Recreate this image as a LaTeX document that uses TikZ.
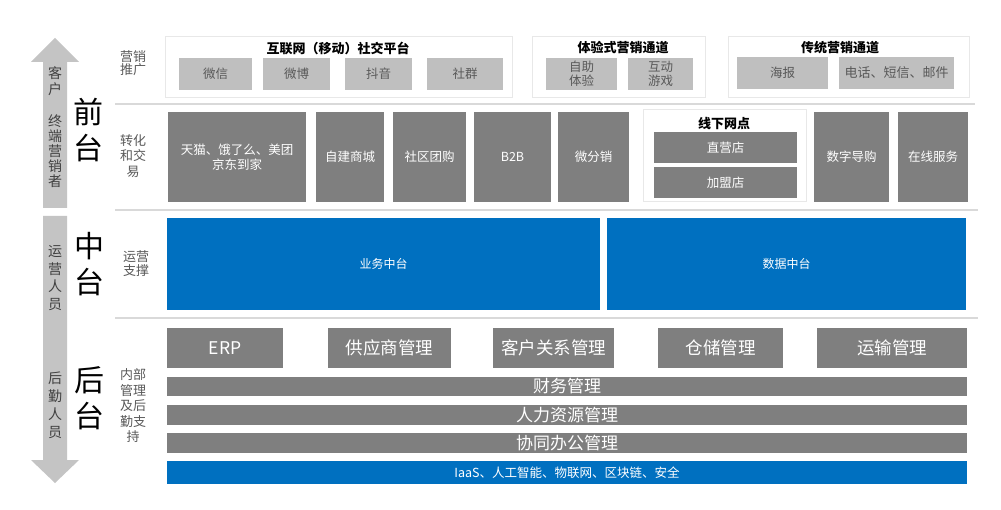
\documentclass[tikz,border=0pt]{standalone}
\usepackage{fontspec}
\setmainfont{Noto Sans CJK SC}
\definecolor{dg}{HTML}{7F7F7F}
\definecolor{lg}{HTML}{BFBFBF}
\definecolor{txg}{HTML}{595959}
\definecolor{bl}{HTML}{0070C0}
\definecolor{sep}{HTML}{D9D9D9}
\definecolor{gb}{HTML}{E8E8E8}
\definecolor{arr}{HTML}{C4C4C4}
\newcommand\mkbox[7]{%
  \pgfmathsetmacro\mycx{(#3+#5)/2}\pgfmathsetmacro\mycy{(#4+#6)/2}%
  \pgfmathsetmacro\myw{#5-#3}\pgfmathsetmacro\myh{#6-#4}%
  \node[#1, minimum width=\myw pt, minimum height=\myh pt] (#2) at (\mycx,\mycy) {#7};}
\tikzset{
  base/.style={rectangle, inner sep=0pt, outer sep=0pt, align=center},
  grp/.style={base, draw=gb, line width=1pt, fill=white},
  lbox/.style={base, fill=lg, text=txg, font=\fontsize{12.5}{14}\selectfont},
  dbox/.style={base, fill=dg, text=white, font=\fontsize{12.5}{15}\selectfont},
  bbox/.style={base, fill=bl, text=white, font=\fontsize{12}{14}\selectfont},
  ttl/.style={font=\bfseries\fontsize{13}{15}\selectfont, text=black, inner sep=0pt},
  big/.style={align=center, font=\fontsize{30}{36}\selectfont, text=black, inner sep=0pt},
  rlab/.style={align=center, text=txg, inner sep=0pt},
  alab/.style={align=center, text=black!75, inner sep=0pt},
  sepline/.style={draw=sep, line width=2pt}
}
\begin{document}
\begin{tikzpicture}[x=1pt, y=-1pt]
\useasboundingbox[fill=white] (0,0) rectangle (1001,510);
% arrows
\fill[arr] (55,38) -- (79,62) -- (67,62) -- (67,208) -- (43,208) -- (43,62) -- (31,62) -- cycle;
\fill[arr] (43,216) -- (67,216) -- (67,460) -- (79,460) -- (55,483) -- (31,460) -- (43,460) -- cycle;
\node[alab, font=\fontsize{14}{16.5}\selectfont] (a1) at (55,81) {客\\户};
\node[alab, font=\fontsize{14}{15}\selectfont] (a2) at (55,151) {终\\端\\营\\销\\者};
\node[alab, font=\fontsize{14}{17.5}\selectfont] (a3) at (55,278) {运\\营\\人\\员};
\node[alab, font=\fontsize{14}{18}\selectfont] (a4) at (55,405) {后\\勤\\人\\员};
% big labels
\node[big] (L1) at (88,130) {前\\台};
\node[big] (L2) at (89,264) {中\\台};
\node[big] (L3) at (89,398) {后\\台};
% row labels
\node[rlab, font=\fontsize{13}{13}\selectfont] (r1) at (133,63) {营销\\推广};
\node[rlab, font=\fontsize{13}{15.5}\selectfont] (r2) at (133,156) {转化\\和交\\易};
\node[rlab, font=\fontsize{13}{14}\selectfont] (r3) at (136,264) {运营\\支撑};
\node[rlab, font=\fontsize{13}{15.5}\selectfont] (r4) at (133,406) {内部\\管理\\及后\\勤支\\持};
% separators
\draw[sepline] (115,104) -- (975,104);
\draw[sepline] (115,210) -- (978,210);
\draw[sepline] (115,318) -- (978,318);
% top row
\mkbox{grp}{g1}{165}{37}{512}{98}{}
\mkbox{grp}{g2}{532}{37}{705}{98}{}
\mkbox{grp}{g3}{728}{37}{969}{98}{}
\node[ttl] (t1) at (338,48) {互联网（移动）社交平台};
\node[ttl] (t2) at (623,48) {体验式营销通道};
\node[ttl] (t3) at (840,48) {传统营销通道};
\mkbox{lbox}{m1}{179}{58}{252}{90}{微信}
\mkbox{lbox}{m2}{263}{58}{330}{90}{微博}
\mkbox{lbox}{m3}{345}{58}{412}{90}{抖音}
\mkbox{lbox}{m4}{427}{58}{503}{90}{社群}
\mkbox{lbox}{m5}{546}{58}{617}{90}{自助\\体验}
\mkbox{lbox}{m6}{628}{58}{693}{90}{互动\\游戏}
\mkbox{lbox}{m7}{737}{57}{828}{89}{海报}
\mkbox{lbox, font=\fontsize{13}{15}\selectfont}{m8}{839}{57}{954}{89}{电话、短信、邮件}
% second row
\mkbox{dbox}{s1}{168}{112}{306}{202}{天猫、饿了么、美团\\京东到家}
\mkbox{dbox}{s2}{316}{112}{384}{202}{自建商城}
\mkbox{dbox}{s3}{393}{112}{466}{202}{社区团购}
\mkbox{dbox}{s4}{474}{112}{551}{202}{B2B}
\mkbox{dbox}{s5}{558}{112}{629}{202}{微分销}
\mkbox{grp}{g4}{643}{110}{806}{202}{}
\node[ttl] (t4) at (724,124) {线下网点};
\mkbox{dbox}{s6}{654}{132}{797}{163}{直营店}
\mkbox{dbox}{s7}{654}{167}{797}{198}{加盟店}
\mkbox{dbox}{s8}{814}{112}{889}{202}{数字导购}
\mkbox{dbox}{s9}{898}{112}{968}{202}{在线服务}
% third row
\mkbox{bbox}{b1}{167}{218}{600}{310}{业务中台}
\mkbox{bbox}{b2}{607}{218}{966}{310}{数据中台}
% fourth row
\mkbox{dbox, font=\fontsize{17.5}{19}\selectfont}{e1}{167}{328}{283}{368}{ERP}
\mkbox{dbox, font=\fontsize{17.5}{19}\selectfont}{e2}{328}{328}{451}{368}{供应商管理}
\mkbox{dbox, font=\fontsize{17.5}{19}\selectfont}{e3}{493}{328}{614}{368}{客户关系管理}
\mkbox{dbox, font=\fontsize{17.5}{19}\selectfont}{e4}{658}{328}{783}{368}{仓储管理}
\mkbox{dbox, font=\fontsize{17.5}{19}\selectfont}{e5}{817}{328}{967}{368}{运输管理}
\mkbox{dbox, font=\fontsize{17}{18}\selectfont}{f1}{167}{377}{967}{396}{财务管理}
\mkbox{dbox, font=\fontsize{17}{18}\selectfont}{f2}{167}{405}{967}{425}{人力资源管理}
\mkbox{dbox, font=\fontsize{17}{18}\selectfont}{f3}{167}{433}{967}{453}{协同办公管理}
\mkbox{bbox, font=\fontsize{12.5}{14}\selectfont}{f4}{167}{461}{967}{484}{IaaS、人工智能、物联网、区块链、安全}
\end{tikzpicture}
\end{document}
